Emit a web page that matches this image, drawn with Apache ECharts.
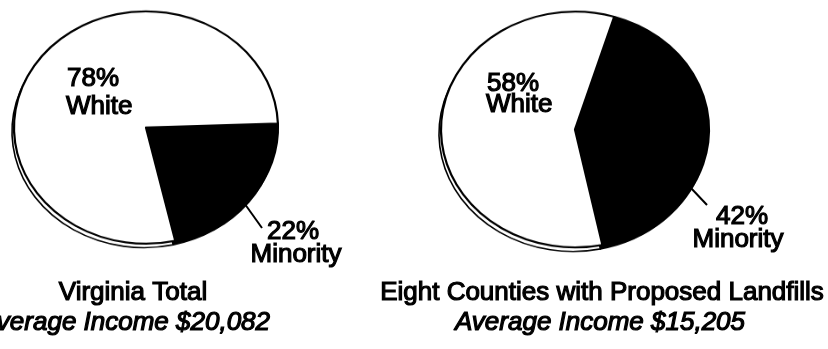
<!DOCTYPE html>
<html>
<head>
<meta charset="utf-8">
<script src="https://cdn.jsdelivr.net/npm/echarts@6/dist/echarts.min.js"></script>
<style>
html,body{margin:0;padding:0;background:#fff;}
#wrap{position:relative;width:828px;height:349px;overflow:hidden;background:#fff;}
#pies{position:absolute;left:0;top:0;width:828px;height:397px;transform:scaleY(0.88);transform-origin:0 0;}
#labels{position:absolute;left:0;top:0;width:828px;height:349px;}
</style>
</head>
<body>
<div id="wrap"><div id="pies"></div><div id="labels"></div></div>
<script>
// ---- data ----
const categories = ['Minority', 'White'];
const chartTitles = ['Virginia Total', 'Eight Counties with Proposed Landfills'];
const incomes = ['$20,082', '$15,205'];
const minorityPct = [22, 42];
const whitePct = [78, 58];

// ---- layout (not data) ----
const SY = 0.88;
const pieGeo = [
  {cx: 146, cy: 127.5, r: 132, start: 2},
  {cx: 575, cy: 129.5, r: 134, start: 73}
];
const sliceColors = ['#000000', '#ffffff'];

function pieData(i) {
  return [
    {name: categories[0], value: minorityPct[i], itemStyle: {color: sliceColors[0]}},
    {name: categories[1], value: whitePct[i], itemStyle: {color: sliceColors[1]}}
  ];
}

const pieSeries = [];
pieGeo.forEach((g, i) => {
  // rim (3D edge) behind
  pieSeries.push({
    type: 'pie', silent: true, animation: false, z: 1,
    center: [g.cx - 2, (g.cy + 4) / SY], radius: g.r,
    startAngle: g.start, clockwise: true,
    label: {show: false}, labelLine: {show: false},
    emphasis: {disabled: true},
    itemStyle: {borderColor: '#000', borderWidth: 1.6},
    data: pieData(i)
  });
  pieSeries.push({
    type: 'pie', silent: true, animation: false, z: 2,
    center: [g.cx, g.cy / SY], radius: g.r,
    startAngle: g.start, clockwise: true,
    label: {show: false}, labelLine: {show: false},
    emphasis: {disabled: true},
    itemStyle: {borderColor: '#000', borderWidth: 2.2},
    data: pieData(i)
  });
});

const pies = echarts.init(document.getElementById('pies'), null, {renderer: 'canvas'});
pies.setOption({animation: false, backgroundColor: 'transparent', series: pieSeries});

// ---- labels ----
const FONT = '"Liberation Sans", Arial, Helvetica, sans-serif';
function txt(text, x, y, align, italic) {
  return {
    type: 'text', silent: true,
    style: {
      text: text, x: x, y: y,
      fill: '#000', stroke: '#000', lineWidth: 1.2,
      fontSize: 26, fontFamily: FONT, fontStyle: italic ? 'italic' : 'normal',
      textAlign: align, textVerticalAlign: 'middle'
    }
  };
}
function line(x1, y1, x2, y2) {
  return {type: 'line', silent: true, shape: {x1, y1, x2, y2}, style: {stroke: '#000', lineWidth: 2}};
}

const graphics = [
  txt(whitePct[0] + '%', 67, 79, 'left'),
  txt(categories[1], 66, 107, 'left'),
  txt(whitePct[1] + '%', 487, 84, 'left'),
  txt(categories[1], 486, 105, 'left'),
  txt(minorityPct[0] + '%', 293, 232, 'center'),
  txt(categories[0], 296, 255, 'center'),
  txt(minorityPct[1] + '%', 742, 217, 'center'),
  txt(categories[0], 738, 240, 'center'),
  line(242, 200, 262, 228),
  line(690, 187, 707, 205),
  txt(chartTitles[0], 133, 293, 'center'),
  txt('Average Income ' + incomes[0], 125, 323, 'center', true),
  txt(chartTitles[1], 602, 293, 'center'),
  txt('Average Income ' + incomes[1], 600, 323, 'center', true)
];

const labels = echarts.init(document.getElementById('labels'), null, {renderer: 'canvas'});
labels.setOption({animation: false, backgroundColor: 'transparent', graphic: graphics});
</script>
</body>
</html>
